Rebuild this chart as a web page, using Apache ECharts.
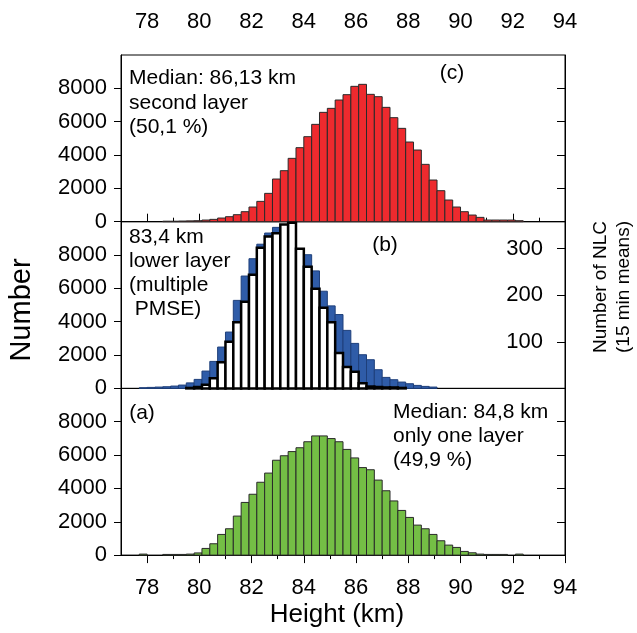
<!DOCTYPE html>
<html>
<head>
<meta charset="utf-8">
<script src="https://cdn.jsdelivr.net/npm/echarts@6/dist/echarts.min.js"></script>
<style>
  html, body { margin: 0; padding: 0; background: #fff; }
  #chart { width: 637px; height: 633px; }
</style>
</head>
<body>
<div id="chart"></div>
<script>
// Histogram bins: centres of 0.3 km wide height bins
const binWidth = 0.3;
const binCenters = [
  77.85, 78.15, 78.45, 78.75, 79.05, 79.35, 79.65, 79.95, 80.25, 80.55,
  80.85, 81.15, 81.45, 81.75, 82.05, 82.35, 82.65, 82.95, 83.25, 83.55,
  83.85, 84.15, 84.45, 84.75, 85.05, 85.35, 85.65, 85.95, 86.25, 86.55,
  86.85, 87.15, 87.45, 87.75, 88.05, 88.35, 88.65, 88.95, 89.25, 89.55,
  89.85, 90.15, 90.45, 90.75, 91.05, 91.35, 91.65, 91.95, 92.25
];

// (c) second layer
const secondLayer = [
  0, 0, 0, 30, 30, 40, 50, 60, 100, 140,
  220, 300, 420, 600, 880, 1220, 1700, 2560, 3060, 3800,
  4440, 5100, 5840, 6560, 6800, 7300, 7620, 8120, 8240, 7640,
  7500, 6860, 6240, 5600, 4780, 4300, 3440, 2500, 1860, 1300,
  880, 600, 400, 260, 100, 100, 100, 100, 60
];

// (b) lower layer
const lowerLayer = [
  40, 60, 80, 100, 140, 200, 330, 540, 1040, 1620,
  2480, 3380, 5280, 6740, 7780, 8650, 9320, 9660, 9500, 9300,
  8200, 8020, 7050, 5830, 4950, 4430, 3480, 2700, 2020, 1720,
  1120, 660, 520, 380, 280, 180, 120, 80, 0, 0,
  0, 0, 0, 0, 0, 0, 0, 0, 0
];

// (b) number of NLC, 15 min means (right axis)
const nlcCounts = [
  0, 0, 0, 0, 0, 0, 1, 3, 8, 22,
  56, 100, 142, 186, 244, 302, 326, 333, 352, 356,
  300, 261, 214, 173, 142, 76, 46, 36, 11, 4,
  3, 2, 2, 1, 0, 0, 0, 0, 0, 0,
  0, 0, 0, 0, 0, 0, 0, 0, 0
];

// (a) only one layer
const singleLayer = [
  60, 0, 0, 40, 40, 40, 60, 130, 400, 680,
  1240, 1580, 2340, 3160, 3650, 4370, 4920, 5690, 5960, 6210,
  6440, 6800, 7150, 7150, 6990, 6800, 6340, 5830, 5250, 5120,
  4500, 3860, 3250, 2680, 2260, 1800, 1580, 1240, 860, 600,
  460, 220, 140, 60, 40, 40, 40, 0, 60
];

const xTickLabels = [78, 80, 82, 84, 86, 88, 90, 92, 94];
const xMinorTicks = [79, 81, 83, 85, 87, 89, 91, 93];
const yTickLabels = [0, 2000, 4000, 6000, 8000];
const yInnerTicks = [2000, 4000, 6000, 8000];
const nlcTickLabels = [100, 200, 300];

const FONT = 'Liberation Sans, Arial, Helvetica, sans-serif';
const GRID_LEFT = 121, GRID_RIGHT = 72, PANEL_H = 166.7;
const panelTops = [55, 55 + PANEL_H, 55 + 2 * PANEL_H];

const chart = echarts.init(document.getElementById('chart'), null, { renderer: 'canvas' });

function pairs(values) {
  return binCenters.map((c, i) => [c, values[i]]);
}

function histBar(style) {
  return function (params, api) {
    const x = api.value(0), v = api.value(1);
    if (!v) return null;
    const a = api.coord([x - binWidth / 2, v]);
    const b = api.coord([x + binWidth / 2, 0]);
    return {
      type: 'rect',
      shape: { x: a[0], y: a[1], width: b[0] - a[0], height: b[1] - a[1] },
      style: style
    };
  };
}

const plain = v => String(v);
const line = { show: true, lineStyle: { color: '#000', width: 1 } };

function xMajor(grid, pos) {
  return {
    type: 'value', gridIndex: grid, position: pos, min: 77, max: 94,
    axisLine: line,
    axisTick: { show: true, inside: false, length: 8, customValues: xTickLabels, lineStyle: { color: '#000' } },
    axisLabel: { show: true, customValues: xTickLabels, formatter: plain, fontSize: 22, fontFamily: FONT, color: '#000', margin: pos === 'top' ? 22 : 22 },
    splitLine: { show: false }
  };
}
function xMinor(grid, pos) {
  return {
    type: 'value', gridIndex: grid, position: pos, min: 77, max: 94,
    axisLine: { show: false },
    axisTick: { show: true, inside: false, length: 4, customValues: xMinorTicks, lineStyle: { color: '#000' } },
    axisLabel: { show: false },
    splitLine: { show: false }
  };
}
function yLeft(grid) {
  return {
    type: 'value', gridIndex: grid, position: 'left', min: 0, max: 10000,
    axisLine: line,
    axisTick: { show: true, inside: false, length: 7, customValues: yTickLabels, lineStyle: { color: '#000' } },
    axisLabel: { show: true, customValues: yTickLabels, formatter: plain, fontSize: 22, fontFamily: FONT, color: '#000', margin: 14 },
    splitLine: { show: false }
  };
}
function yRightMirror(grid) {
  return {
    type: 'value', gridIndex: grid, position: 'right', min: 0, max: 10000,
    axisLine: line,
    axisTick: { show: true, inside: true, length: 8, customValues: yInnerTicks, lineStyle: { color: '#000' } },
    axisLabel: { show: false },
    splitLine: { show: false }
  };
}

const option = {
  animation: false,
  backgroundColor: '#fff',
  grid: panelTops.map(t => ({
    left: GRID_LEFT, right: GRID_RIGHT, top: t, height: PANEL_H,
    show: true, borderColor: '#000', borderWidth: 1, backgroundColor: 'transparent'
  })),
  xAxis: [
    xMajor(0, 'top'),
    xMinor(0, 'top'),
    { type: 'value', gridIndex: 1, min: 77, max: 94, show: false },
    xMajor(2, 'bottom'),
    xMinor(2, 'bottom')
  ],
  yAxis: [
    yLeft(0),
    yRightMirror(0),
    yLeft(1),
    {
      type: 'value', gridIndex: 1, position: 'right', min: 0, max: 358,
      axisLine: line,
      axisTick: { show: true, inside: true, length: 8, customValues: nlcTickLabels, lineStyle: { color: '#000' } },
      axisLabel: { show: true, inside: true, customValues: nlcTickLabels, formatter: plain, fontSize: 22, fontFamily: FONT, color: '#000', margin: 22 },
      splitLine: { show: false }
    },
    yLeft(2),
    yRightMirror(2)
  ],
  series: [
    {
      type: 'custom', name: 'second layer', xAxisIndex: 0, yAxisIndex: 0,
      renderItem: histBar({ fill: '#ee2a2e', stroke: '#2a2a2a', lineWidth: 1 }),
      data: pairs(secondLayer), z: 2
    },
    {
      type: 'custom', name: 'lower layer', xAxisIndex: 2, yAxisIndex: 2,
      renderItem: histBar({ fill: '#2f5ca8', stroke: '#1e3f7a', lineWidth: 1 }),
      data: pairs(lowerLayer), z: 2
    },
    {
      type: 'custom', name: 'NLC', xAxisIndex: 2, yAxisIndex: 3,
      renderItem: histBar({ fill: '#ffffff', stroke: '#000', lineWidth: 2.5 }),
      data: pairs(nlcCounts), z: 3
    },
    {
      type: 'custom', name: 'only one layer', xAxisIndex: 3, yAxisIndex: 4,
      renderItem: histBar({ fill: '#74be45', stroke: '#2a2a2a', lineWidth: 1 }),
      data: pairs(singleLayer), z: 2
    }
  ],
  graphic: [
    { type: 'text', x: 22, y: 310, rotation: Math.PI / 2,
      style: { text: 'Number', font: '29px ' + FONT, fill: '#000', align: 'center', verticalAlign: 'middle' } },
    { type: 'text', x: 612, y: 287, rotation: Math.PI / 2,
      style: { text: 'Number of NLC\n(15 min means)', font: '19px ' + FONT, lineHeight: 23, fill: '#000', align: 'center', verticalAlign: 'middle' } },
    { type: 'text', x: 337, y: 615,
      style: { text: 'Height (km)', font: '26px ' + FONT, fill: '#000', align: 'center', verticalAlign: 'middle' } },

    { type: 'text', x: 129, y: 103, z: 10,
      style: { text: 'Median: 86,13 km\nsecond layer\n(50,1 %)', font: '21px ' + FONT, lineHeight: 24.5, fill: '#000', align: 'left', verticalAlign: 'middle' } },
    { type: 'text', x: 452, y: 73, z: 10,
      style: { text: '(c)', font: '21px ' + FONT, fill: '#000', align: 'center', verticalAlign: 'middle' } },

    { type: 'text', x: 129, y: 273, z: 10,
      style: { text: '83,4 km\nlower layer\n(multiple\n PMSE)', font: '21px ' + FONT, lineHeight: 24, fill: '#000', align: 'left', verticalAlign: 'middle' } },
    { type: 'text', x: 385, y: 245, z: 10,
      style: { text: '(b)', font: '21px ' + FONT, fill: '#000', align: 'center', verticalAlign: 'middle' } },

    { type: 'text', x: 142, y: 413, z: 10,
      style: { text: '(a)', font: '21px ' + FONT, fill: '#000', align: 'center', verticalAlign: 'middle' } },
    { type: 'text', x: 393, y: 436, z: 10,
      style: { text: 'Median: 84,8 km\nonly one layer\n(49,9 %)', font: '21px ' + FONT, lineHeight: 24, fill: '#000', align: 'left', verticalAlign: 'middle' } }
  ]
};

chart.setOption(option);
</script>
</body>
</html>
